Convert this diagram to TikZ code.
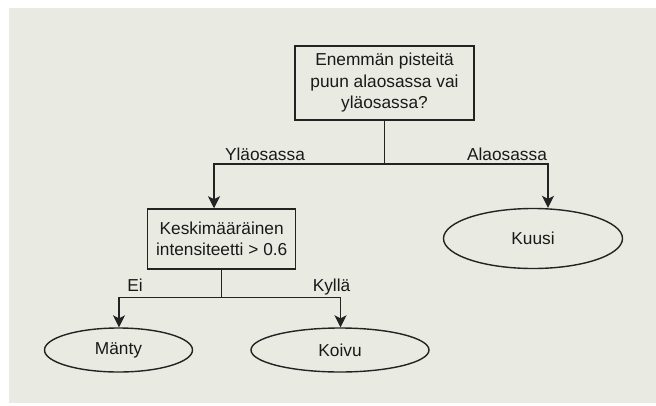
\documentclass[tikz,border=0pt]{standalone}
\usepackage{fontspec}
\setmainfont{Liberation Sans}
\usetikzlibrary{arrows.meta,shapes.geometric}
\definecolor{bg}{RGB}{233,235,226}
\definecolor{ln}{RGB}{35,35,35}
\begin{document}
\begin{tikzpicture}[x=1pt,y=-1pt,
  every node/.style={font=\fontsize{17.3}{21.5}\selectfont, text=black!90},
  boxnode/.style={draw=ln, line width=1.5pt, inner sep=0pt, align=center},
  leaf/.style={ellipse, draw=ln, line width=1.4pt, inner sep=0pt},
  conn/.style={draw=ln, line width=1.5pt},
  arr/.style={conn, -{Stealth[length=12pt,width=12pt,inset=3pt]}},
  lbl/.style={anchor=base, inner sep=0pt}]
\useasboundingbox (0,0) rectangle (656,405);
\fill[white] (0,0) rectangle (656,405);
\fill[bg] (9,8) rectangle (656,403);

\node[boxnode, minimum width=179pt, minimum height=74pt] (q1) at (384.5,83)
  {Enemmän pisteitä\\puun alaosassa vai\\yläosassa?};
\node[boxnode, minimum width=148pt, minimum height=60pt] (q2) at (221.7,239)
  {Keskimääräinen\\intensiteetti > 0.6};
\node[leaf, minimum width=179pt, minimum height=60pt] (kuusi) at (533,238.5) {Kuusi};
\node[leaf, minimum width=148pt, minimum height=44pt] (manty) at (118.5,350) {Mänty};
\node[leaf, minimum width=178pt, minimum height=44pt] (koivu) at (340,350) {Koivu};

\coordinate (j1) at (384.5,164);
\coordinate (a1) at (214,164);
\coordinate (a2) at (548,164);
\draw[conn] (q1.south) -- (j1);
\draw[arr] (j1) -- (a1) -- (a1 |- q2.north);
\draw[arr] (j1) -- (a2) -- (a2 |- kuusi.north);

\coordinate (j2) at (221.7,297.5);
\coordinate (b1) at (119,297.5);
\coordinate (b2) at (340.5,297.5);
\draw[conn] (q2.south) -- (j2);
\draw[arr] (j2) -- (b1) -- (b1 |- manty.north);
\draw[arr] (j2) -- (b2) -- (b2 |- koivu.north);

\node[lbl] (lyla) at (265,160.5) {Yläosassa};
\node[lbl] (lala) at (507,160.5) {Alaosassa};
\node[lbl] (lei) at (135,291) {Ei};
\node[lbl] (lkylla) at (331.5,291) {Kyllä};
\end{tikzpicture}
\end{document}
